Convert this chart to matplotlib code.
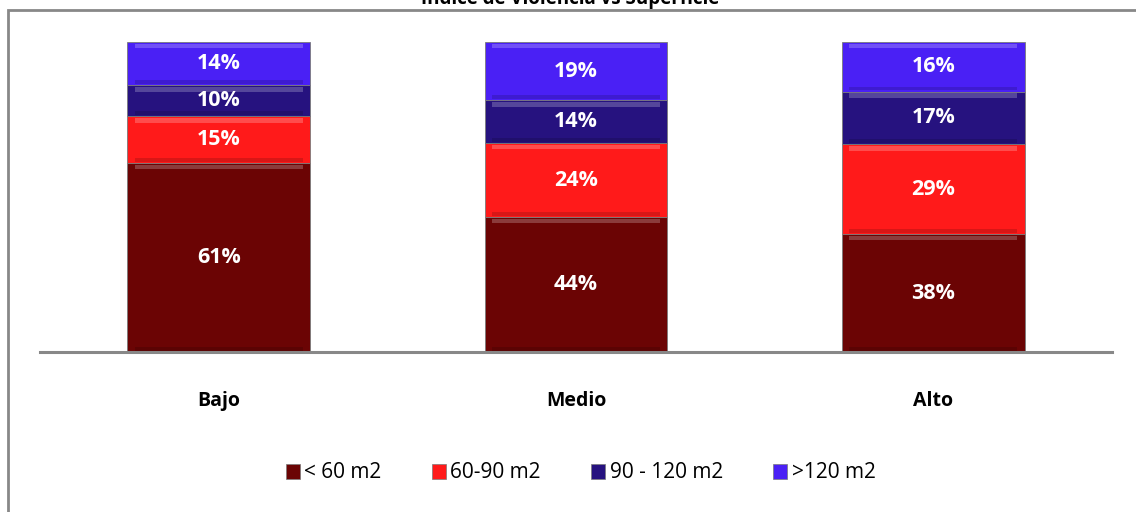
import numpy as np
import matplotlib
matplotlib.use("Agg")
import matplotlib.pyplot as plt
from matplotlib.patches import Patch, Rectangle

plt.rcParams["font.family"] = ["Open Sans", "DejaVu Sans"]

# datos
categorias = ["Bajo", "Medio", "Alto"]
series = ["< 60 m2", "60-90 m2", "90 - 120 m2", ">120 m2"]
menos_60 = [61, 44, 38]
de_60_90 = [15, 24, 29]
de_90_120 = [10, 14, 17]
mas_120 = [14, 19, 16]
colores = ["#6B0404", "#FF1A1A", "#26127F", "#4A20F5"]

valores = np.array([menos_60, de_60_90, de_90_120, mas_120], dtype=float)
fracs = valores / valores.sum(axis=0)

fig = plt.figure(figsize=(11.36, 5.12), dpi=100)
ax = fig.add_axes([40/1136, 1-352/512, 1072/1136, 310/512])

x = np.arange(len(categorias))
ancho = 0.512
base = np.zeros(len(categorias))
for i, serie in enumerate(series):
    ax.bar(x, fracs[i], ancho, bottom=base, color=colores[i],
           edgecolor="#7a7a7a", linewidth=0.6, zorder=2)
    # brillo superior / sombra inferior (efecto bisel)
    ax.bar(x, 0.014, ancho*0.92, bottom=base+fracs[i]-0.02, color="white",
           alpha=0.22, linewidth=0, zorder=3)
    ax.bar(x, 0.012, ancho*0.92, bottom=base+0.004, color="black",
           alpha=0.15, linewidth=0, zorder=3)
    for xi, b, f, v in zip(x, base, fracs[i], valores[i]):
        ax.text(xi, b + f/2, "%d%%" % v, ha="center", va="center",
                color="white", fontsize=15.5, fontweight="bold", zorder=4)
    base += fracs[i]

ax.set_xlim(-0.5, 2.5)
ax.set_ylim(0, 1)
for s in ["top", "right", "left"]:
    ax.spines[s].set_visible(False)
ax.spines["bottom"].set_color("#888888")
ax.spines["bottom"].set_linewidth(2.2)
ax.set_yticks([])
ax.set_xticks(x)
ax.set_xticklabels(categorias, fontsize=14, fontweight="bold")
ax.tick_params(axis="x", length=0, pad=28)

handles = [Patch(facecolor=c, edgecolor="#7a7a7a", linewidth=0.5) for c in colores]
fig.legend(handles, series, loc="center", bbox_to_anchor=(0.511, 1-473/512),
           ncol=4, frameon=False, fontsize=15, handlelength=0.7,
           handleheight=0.7, handletextpad=0.2, columnspacing=2.4)

fig.text(0.502, 0.992, "Índice de Violencia vs Superficie", ha="center",
         va="baseline", fontsize=13.5, fontweight="bold")

# marco gris del grafico
fig.patches.append(Rectangle((8/1136, -0.1), 1.1, 1.1 - 10/512,
                             transform=fig.transFigure, fill=False,
                             edgecolor="#888888", linewidth=2))

fig.savefig("out.png", dpi=100)
